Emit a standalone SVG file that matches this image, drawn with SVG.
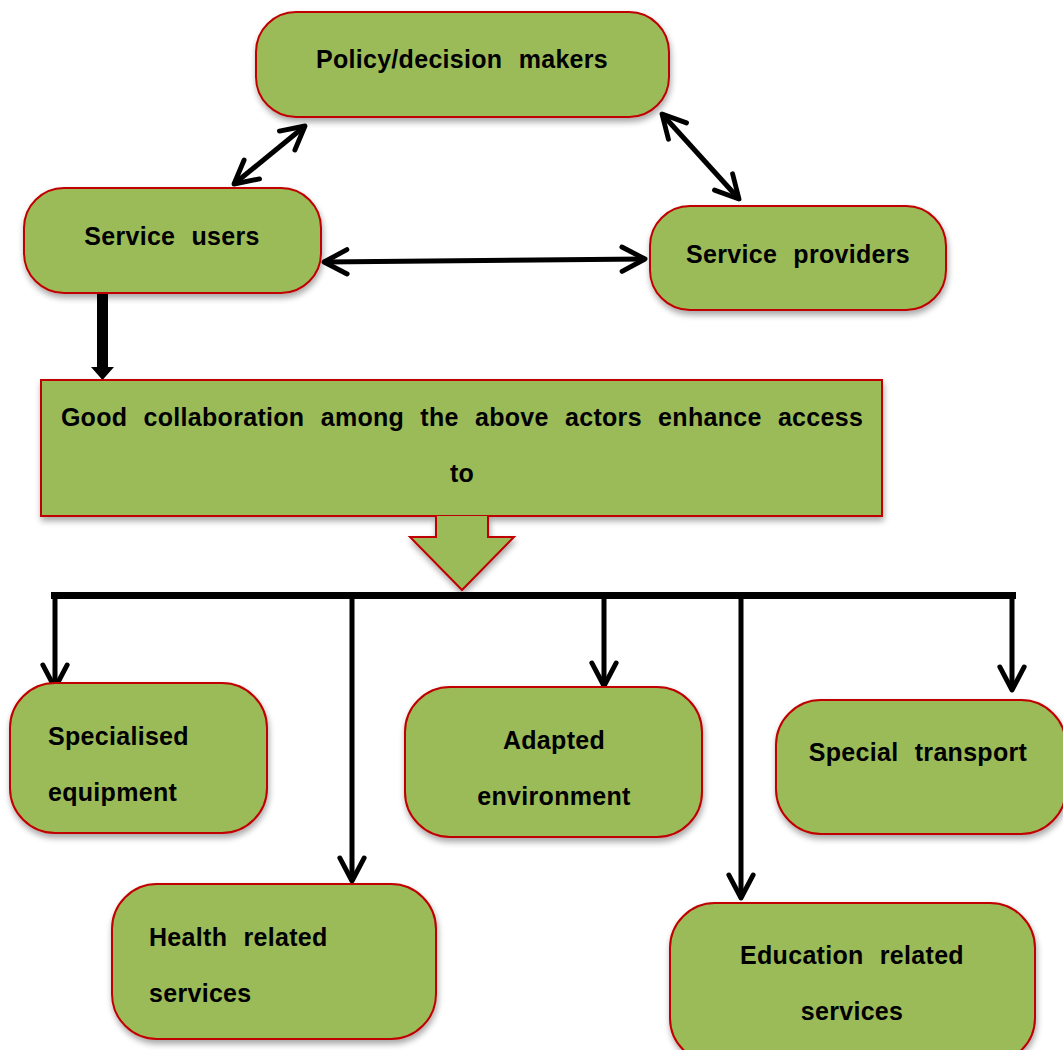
<svg xmlns="http://www.w3.org/2000/svg" width="1063" height="1050" viewBox="0 0 1063 1050">
<defs>
<style>
.box{fill:#9BBB59;stroke:#C00000;stroke-width:2;filter:url(#sh)}
.t{font-family:"Liberation Sans",Arial,sans-serif;font-weight:bold;font-size:25px;fill:#000;word-spacing:9px;letter-spacing:0.3px}
.ln{stroke:#000;stroke-width:5;fill:none}
</style>
<filter id="sh" x="-10%" y="-10%" width="120%" height="130%">
<feGaussianBlur in="SourceAlpha" stdDeviation="3"/>
<feOffset dx="1" dy="4" result="b"/>
<feComponentTransfer><feFuncA type="linear" slope="0.35"/></feComponentTransfer>
<feMerge><feMergeNode/><feMergeNode in="SourceGraphic"/></feMerge>
</filter>
<marker id="ah" viewBox="0 0 12 12" refX="10.5" refY="6" markerWidth="6.5" markerHeight="6.5" orient="auto-start-reverse" markerUnits="strokeWidth">
<path d="M2,1.5 L10.5,6 L2,10.5" fill="none" stroke="#000" stroke-width="1.8" stroke-linecap="round" stroke-linejoin="round"/>
</marker>
</defs>
<rect width="1063" height="1050" fill="#fff"/>
<g id="connectors">
<line class="ln" x1="234" y1="184" x2="305" y2="126" marker-start="url(#ah)" marker-end="url(#ah)"/>
<line class="ln" x1="662" y1="114" x2="739" y2="199" marker-start="url(#ah)" marker-end="url(#ah)"/>
<line class="ln" x1="324" y1="262" x2="645" y2="259" marker-start="url(#ah)" marker-end="url(#ah)"/>
<path d="M97,294 H108 V367 H114 L102.5,380 L91,367 H97 Z" fill="#000"/>
<line x1="51" y1="595.5" x2="1016" y2="595.5" stroke="#000" stroke-width="7"/>
<line class="ln" x1="55" y1="595" x2="55" y2="688" marker-end="url(#ah)"/>
<line class="ln" x1="352" y1="598" x2="352" y2="881" marker-end="url(#ah)"/>
<line class="ln" x1="604" y1="598" x2="604" y2="686" marker-end="url(#ah)"/>
<line class="ln" x1="741" y1="598" x2="741" y2="898" marker-end="url(#ah)"/>
<line class="ln" x1="1012" y1="595" x2="1012" y2="690" marker-end="url(#ah)"/>
</g>
<g id="policy"><rect class="box" x="256" y="12" width="413" height="105" rx="40"/><text class="t" x="462" y="68" text-anchor="middle">Policy/decision makers</text></g>
<g id="users"><rect class="box" x="24" y="188" width="297" height="105" rx="40"/><text class="t" x="172" y="245" text-anchor="middle">Service users</text></g>
<g id="providers"><rect class="box" x="650" y="206" width="296" height="104" rx="40"/><text class="t" x="798" y="263" text-anchor="middle">Service providers</text></g>
<g id="collab"><rect class="box" x="41" y="380" width="841" height="136"/><text class="t" x="462" y="426" text-anchor="middle">Good collaboration among the above actors enhance access</text><text class="t" x="462" y="482" text-anchor="middle">to</text></g>
<g id="blockarrow"><path class="box" d="M436,516 V537 H410 L462,590 L514,537 H488 V516"/></g>
<g id="equipment"><rect class="box" x="10" y="683" width="257" height="150" rx="45"/><text class="t" x="48" y="745">Specialised</text><text class="t" x="48" y="801">equipment</text></g>
<g id="health"><rect class="box" x="112" y="884" width="324" height="155" rx="45"/><text class="t" x="149" y="946">Health related</text><text class="t" x="149" y="1002">services</text></g>
<g id="adapted"><rect class="box" x="405" y="687" width="297" height="150" rx="45"/><text class="t" x="554" y="749" text-anchor="middle">Adapted</text><text class="t" x="554" y="805" text-anchor="middle">environment</text></g>
<g id="transport"><rect class="box" x="776" y="700" width="290" height="134" rx="45"/><text class="t" x="918" y="761" text-anchor="middle">Special transport</text></g>
<g id="education"><rect class="box" x="670" y="903" width="365" height="160" rx="45"/><text class="t" x="852" y="964" text-anchor="middle">Education related</text><text class="t" x="852" y="1020" text-anchor="middle">services</text></g>
</svg>
